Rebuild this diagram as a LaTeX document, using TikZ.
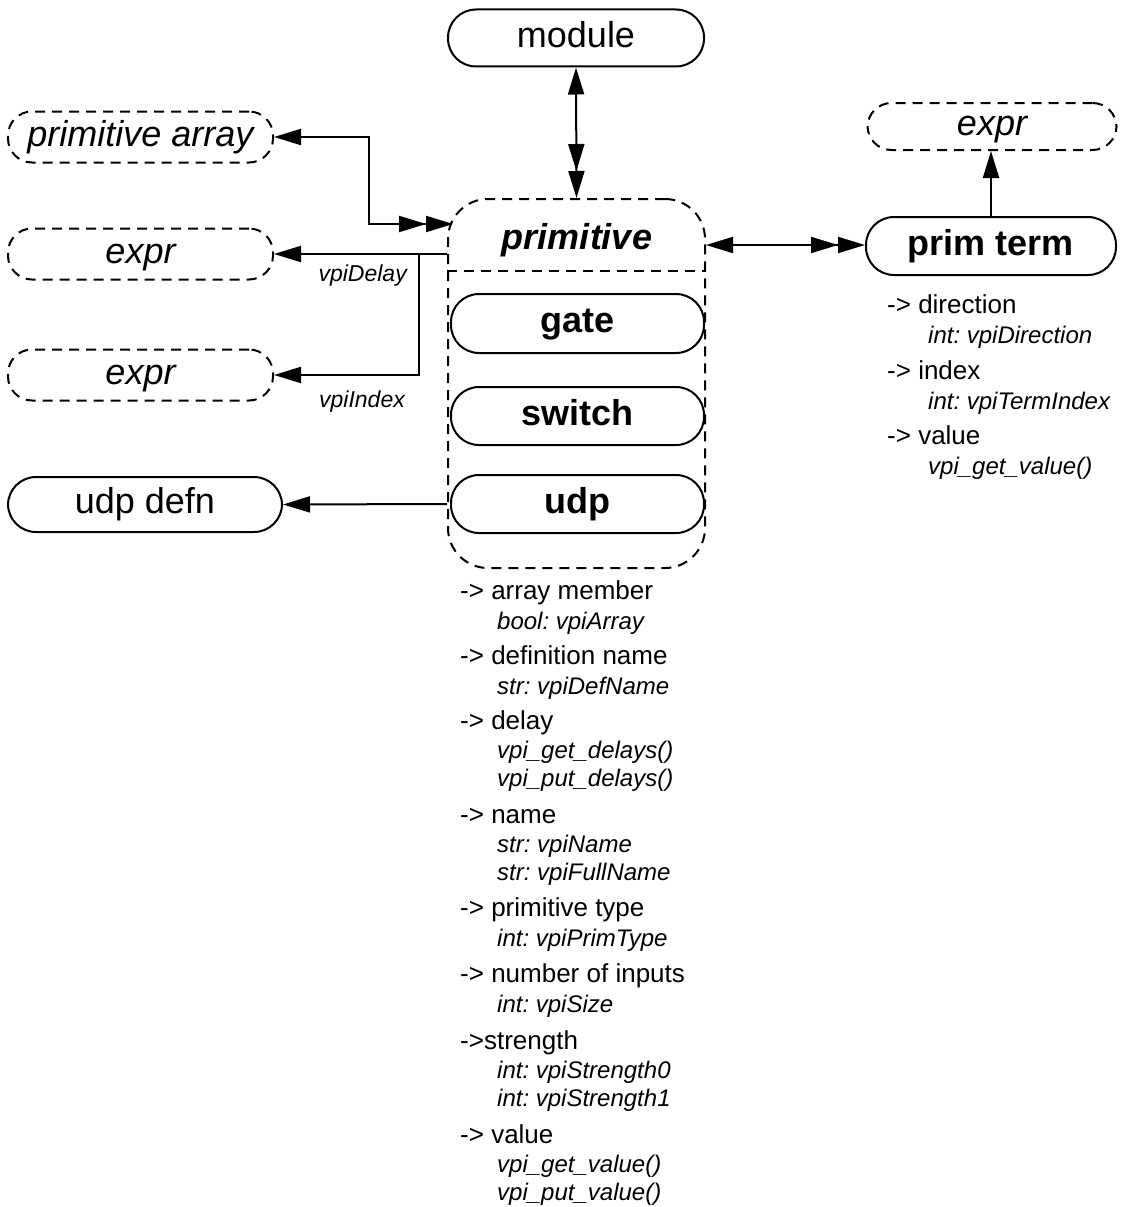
\documentclass[tikz,border=0pt]{standalone}
\usepackage{fontspec}
\setmainfont{Liberation Sans}
\usetikzlibrary{arrows.meta}
\frenchspacing

\tikzset{
  >={Triangle[length=27pt,width=16pt]},
  objbox/.style={draw, line width=2pt, inner sep=0pt, text height=26pt, text depth=7.2pt, font=\fontsize{36}{40}\selectfont},
  solidbox/.style={objbox, rounded corners=28pt},
  boldbox/.style={solidbox, font=\fontsize{36}{40}\selectfont\bfseries},
  dashbox/.style={objbox, dash pattern=on 10pt off 7pt, rounded corners=24pt, font=\fontsize{36}{40}\selectfont\itshape},
  conn/.style={line width=2pt},
  prop/.style={anchor=west, inner sep=0pt, text height=19.5pt, text depth=5.7pt, font=\fontsize{26}{30}\selectfont},
  propval/.style={anchor=west, inner sep=0pt, text height=18pt, text depth=5.3pt, font=\fontsize{24}{28}\selectfont\itshape},
  rellabel/.style={anchor=east, inner sep=0pt, text height=17pt, text depth=5pt, font=\fontsize{23}{26}\selectfont\itshape}
}

\begin{document}
\begin{tikzpicture}[x=1pt, y=-1pt]
  \useasboundingbox (0,0) rectangle (1123,1207);
  % Top object
  \node[solidbox, minimum width=256, minimum height=57] (module) at (576,38) {module};
  % Left objects
  \node[dashbox, minimum width=265, minimum height=51] (parray) at (140.5,137) {primitive array};
  \node[dashbox, minimum width=265, minimum height=51] (delayexpr) at (140.5,254) {expr};
  \node[dashbox, minimum width=265, minimum height=51] (indexexpr) at (140.5,375) {expr};
  \node[solidbox, minimum width=274, minimum height=55] (udpdefn) at (145,504.5) {udp defn};
  % Primitive class with its members
  \node[draw, line width=2pt, dash pattern=on 10pt off 7pt, rounded corners=40pt, minimum width=257, minimum height=369] (primitive) at (576.5,383.5) {};
  \node[inner sep=0pt, text height=26pt, text depth=7.2pt, font=\fontsize{36}{40}\selectfont\bfseries\itshape] (primlabel) at (577,240) {primitive};
  \draw[line width=2pt, dash pattern=on 10pt off 7pt] (primitive.west |- 0,271) -- (primitive.east |- 0,271);
  \node[boldbox, minimum width=253, minimum height=59] (gate) at (577.5,323.5) {gate};
  \node[boldbox, minimum width=253, minimum height=58] (switch) at (577.5,416) {switch};
  \node[boldbox, minimum width=253, minimum height=58] (udp) at (577.5,504) {udp};
  % Right objects
  \node[dashbox, minimum width=249, minimum height=47] (termexpr) at (992,126.5) {expr};
  \node[boldbox, minimum width=250, minimum height=58] (primterm) at (991,246) {prim term};

  % Connectors
  \coordinate (pa-in) at (453,224);
  \coordinate (delay-br) at (419,254);
  \draw[conn, <->>] (module.south) -- (primitive.north);
  \draw[conn, <->>] (parray.east) -- ++(95,0) |- (pa-in);
  \draw[conn, ->] (primitive.west |- delayexpr) -- (delayexpr.east);
  \draw[conn, ->] (delay-br) |- (indexexpr.east);
  \draw[conn, ->] (primitive.west |- udp) -- (udpdefn.east);
  \draw[conn, <->>] (primitive.east |- 0,245) -- (primterm.west |- 0,245);
  \draw[conn, ->] (primterm.north) -- (primterm.north |- termexpr.south);
  \node[rellabel] (delaylab) at (407,275) {vpiDelay};
  \node[rellabel] (indexlab) at (405,401) {vpiIndex};

  % Prim term properties
  \foreach \y/\t [count=\i] in {307/{-> direction}, 373/{-> index}, 438/{-> value}}
    \node[prop] (tp\i) at (887,\y) {\t};
  \foreach \y/\t [count=\i] in {337/{int: vpiDirection}, 403/{int: vpiTermIndex}, 468/{vpi\_get\_value()}}
    \node[propval] (tv\i) at (928,\y) {\t};

  % Primitive properties
  \foreach \y/\t [count=\i] in {593/{-> array member}, 658/{-> definition name}, 723/{-> delay},
      817/{-> name}, 910/{-> primitive type}, 976/{-> number of inputs}, 1043/{->strength}, 1137/{-> value}}
    \node[prop] (pp\i) at (460,\y) {\t};
  \foreach \y/\t [count=\i] in {623/{bool: vpiArray}, 688/{str: vpiDefName}, 752/{vpi\_get\_delays()},
      780/{vpi\_put\_delays()}, 846/{str: vpiName}, 874/{str: vpiFullName}, 940/{int: vpiPrimType},
      1006/{int: vpiSize}, 1072/{int: vpiStrength0}, 1100/{int: vpiStrength1},
      1166/{vpi\_get\_value()}, 1194/{vpi\_put\_value()}}
    \node[propval] (pv\i) at (497,\y) {\t};
\end{tikzpicture}
\end{document}
